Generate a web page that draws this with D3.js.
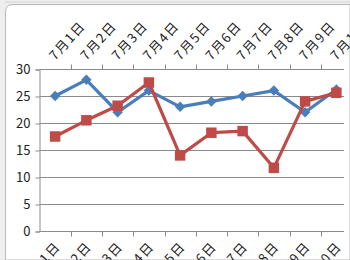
<!DOCTYPE html>
<html>
<head>
<meta charset="utf-8">
<script src="https://cdn.jsdelivr.net/npm/d3@7"></script>
<style>
body { margin: 0; background: #ffffff; }
svg { display: block; }
text { font-family: "Noto Sans CJK SC", "DejaVu Sans", sans-serif; fill: #222; }
</style>
</head>
<body>
<div id="chart"></div>
<script>
// chart data
var categories = ["7月1日", "7月2日", "7月3日", "7月4日", "7月5日", "7月6日", "7月7日", "7月8日", "7月9日", "7月10日"];
var seriesBlue = [25, 28, 22, 26, 23, 24, 25, 26, 22, 26.2];
var seriesRed = [17.5, 20.5, 23.2, 27.5, 14, 18.2, 18.5, 11.7, 24, 25.6];
var yTicks = [0, 5, 10, 15, 20, 25, 30];

var width = 350;
var height = 260;

var svg = d3.select("#chart")
	.append("svg")
	.attr("width", width)
	.attr("height", height);

// excel sheet frame around the chart
svg.append("rect").attr("x", 0).attr("y", 0).attr("width", width).attr("height", height).attr("fill", "#eeeeee");
svg.append("path")
	.attr("d", "M5.5," + height + " V12 Q5.5,4.5 13,4.5 H" + width + " V" + height + " Z")
	.attr("fill", "#ffffff")
	.attr("stroke", "#b8b8b8");
svg.append("line").attr("x1", 5).attr("x2", width).attr("y1", 2).attr("y2", 2).attr("stroke", "#d6d6d6");

var x = d3.scaleBand()
	.domain(categories)
	.range([39.5, 352]);

var y = d3.scaleLinear()
	.domain([0, 30])
	.range([231, 69]);

var plotRight = 344;

// gridlines
svg.append("g")
	.selectAll("line")
	.data(yTicks.slice(1))
	.enter()
	.append("line")
	.attr("x1", 39.5)
	.attr("x2", plotRight)
	.attr("y1", function(d) { return Math.round(y(d)) + 0.5; })
	.attr("y2", function(d) { return Math.round(y(d)) + 0.5; })
	.attr("stroke", "#8a8a8a")
	.attr("stroke-width", 1);

// y axis
var yAxis = svg.append("g")
	.attr("transform", "translate(39.5,0.5)")
	.call(d3.axisLeft(y).tickValues(yTicks).tickSize(4).tickPadding(5));
yAxis.select(".domain").attr("stroke", "#8a8a8a");
yAxis.selectAll(".tick line").attr("stroke", "#8a8a8a");
yAxis.selectAll(".tick text").style("font-size", "13px").attr("fill", "#222");

// x axis at 0
var xAxis = svg.append("g")
	.attr("transform", "translate(0," + (Math.round(y(0)) + 0.5) + ")");
xAxis.append("line")
	.attr("x1", 39.5).attr("x2", plotRight)
	.attr("stroke", "#8a8a8a");
xAxis.selectAll(".xt")
	.data(categories.slice(1))
	.enter()
	.append("line")
	.attr("x1", function(d) { return Math.round(x(d)) + 0.5; })
	.attr("x2", function(d) { return Math.round(x(d)) + 0.5; })
	.attr("y1", 0).attr("y2", 5)
	.attr("stroke", "#8a8a8a");
// top ticks
svg.append("g")
	.selectAll("line")
	.data(categories.slice(1))
	.enter()
	.append("line")
	.attr("x1", function(d) { return Math.round(x(d)) + 0.5; })
	.attr("x2", function(d) { return Math.round(x(d)) + 0.5; })
	.attr("y1", Math.round(y(30)) + 0.5 - 5).attr("y2", Math.round(y(30)) + 0.5)
	.attr("stroke", "#8a8a8a");

// top labels
svg.append("g")
	.selectAll("text")
	.data(categories)
	.enter()
	.append("text")
	.attr("transform", function(d) { return "translate(" + (x(d) + x.bandwidth() / 2) + ",61) rotate(-48)"; })
	.attr("text-anchor", "start")
	.style("font-size", "13px")
	.style("letter-spacing", "1.5px")
	.text(function(d) { return d; });

// bottom labels
svg.append("g")
	.selectAll("text")
	.data(categories)
	.enter()
	.append("text")
	.attr("transform", function(d) { return "translate(" + (x(d) + x.bandwidth() / 2 + 6) + ",247) rotate(-48)"; })
	.attr("text-anchor", "end")
	.style("font-size", "13px")
	.style("letter-spacing", "1.5px")
	.text(function(d) { return d; });

var line = d3.line()
	.x(function(d, i) { return x(categories[i]) + x.bandwidth() / 2; })
	.y(function(d) { return y(d); });

function drawSeries(data, color, shape, size) {
	svg.append("path")
		.datum(data)
		.attr("d", line)
		.attr("fill", "none")
		.attr("stroke", color)
		.attr("stroke-width", 3.2)
		.attr("stroke-linejoin", "round");
	svg.append("g")
		.selectAll("path")
		.data(data)
		.enter()
		.append("path")
		.attr("transform", function(d, i) { return "translate(" + (x(categories[i]) + x.bandwidth() / 2) + "," + y(d) + ")"; })
		.attr("d", d3.symbol().type(shape).size(size))
		.attr("fill", color);
}

drawSeries(seriesBlue, "#4a7ebb", d3.symbolDiamond2, 70);
drawSeries(seriesRed, "#be4b48", d3.symbolSquare, 110);
</script>
</body>
</html>
